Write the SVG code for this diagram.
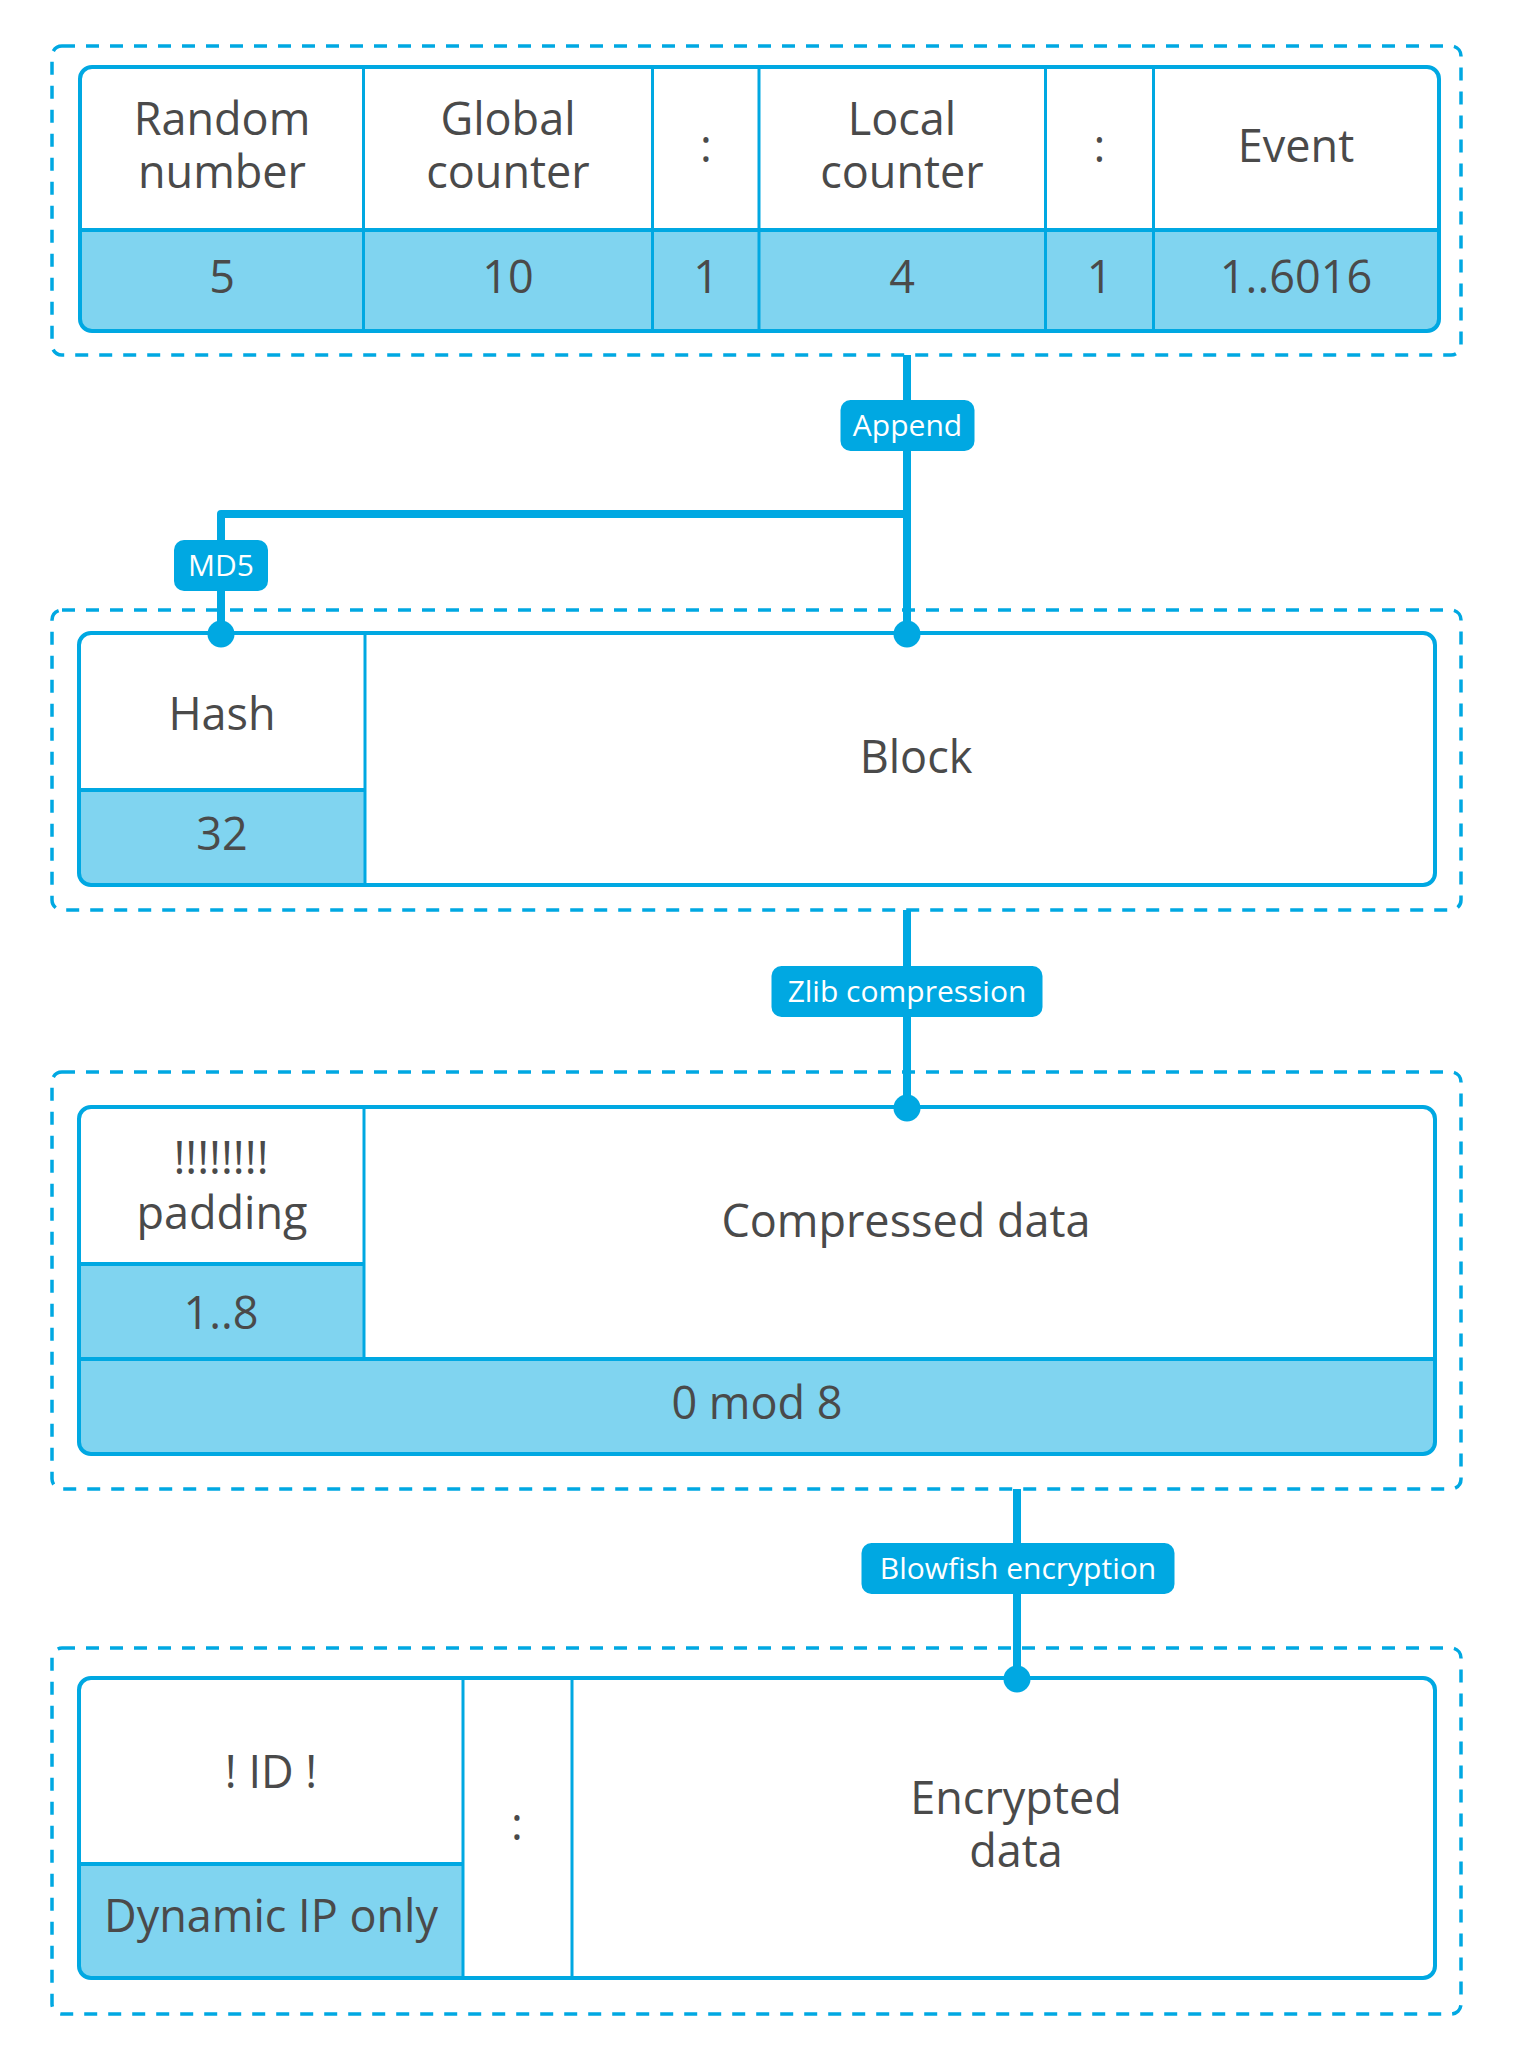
<svg xmlns="http://www.w3.org/2000/svg" width="1518" height="2055" viewBox="0 0 1518 2055">
<defs>
<style>
.grp{fill:none;stroke:#00A8E2;stroke-width:3.5;stroke-dasharray:13 11}
.tbl{fill:none;stroke:#00A8E2;stroke-width:4}
.bg{fill:#ffffff}
.lt{fill:#80D4F0}
.dv{stroke:#00A8E2;stroke-width:3}
.dvh{stroke:#00A8E2;stroke-width:4}
.t{font-family:"Open Sans","Liberation Sans",sans-serif;font-size:45px;fill:#4a4a4a;text-anchor:middle}
.badge{fill:#00A8E2}
.bt{font-family:"Open Sans","Liberation Sans",sans-serif;font-size:30px;fill:#ffffff;text-anchor:middle}
.con{fill:none;stroke:#00A8E2;stroke-width:8;stroke-linejoin:round}
.dot{fill:#00A8E2}
</style>
<clipPath id="c1"><rect x="80" y="67" width="1359" height="264" rx="12"/></clipPath>
<clipPath id="c2"><rect x="79" y="633" width="1356" height="252" rx="12"/></clipPath>
<clipPath id="c3"><rect x="79" y="1107" width="1356" height="347" rx="12"/></clipPath>
<clipPath id="c4"><rect x="79" y="1678" width="1356" height="300" rx="12"/></clipPath>
</defs>

<g id="connectors">
<path class="con" d="M907,355 V633"/>
<path class="con" d="M907,514 H221 V633"/>
<path class="con" d="M907,910 V1107"/>
<path class="con" d="M1017,1489 V1678"/>
</g>

<g id="group1">
<rect class="grp" x="52" y="46" width="1409" height="309" rx="10"/>
<g id="table1">
<rect class="bg" x="80" y="67" width="1359" height="264" rx="12"/>
<g clip-path="url(#c1)"><rect class="lt" x="80" y="230" width="1359" height="101"/></g>
<line class="dvh" x1="80" y1="230" x2="1439" y2="230"/>
<line class="dv" x1="363.5" y1="67" x2="363.5" y2="331"/>
<line class="dv" x1="652.5" y1="67" x2="652.5" y2="331"/>
<line class="dv" x1="759" y1="67" x2="759" y2="331"/>
<line class="dv" x1="1045.5" y1="67" x2="1045.5" y2="331"/>
<line class="dv" x1="1153.5" y1="67" x2="1153.5" y2="331"/>
<rect class="tbl" x="80" y="67" width="1359" height="264" rx="12"/>
<text class="t" x="222" y="135">Random<tspan x="222" y="188">number</tspan></text>
<text class="t" x="508" y="135">Global<tspan x="508" y="188">counter</tspan></text>
<text class="t" x="706" y="162">:</text>
<text class="t" x="902" y="135">Local<tspan x="902" y="188">counter</tspan></text>
<text class="t" x="1099.5" y="162">:</text>
<text class="t" x="1296" y="162">Event</text>
<text class="t" x="222" y="293">5</text>
<text class="t" x="508" y="293">10</text>
<text class="t" x="706" y="293">1</text>
<text class="t" x="902" y="293">4</text>
<text class="t" x="1099.5" y="293">1</text>
<text class="t" x="1296" y="293">1..6016</text>
</g>
</g>

<g id="badge-append">
<rect class="badge" x="840.5" y="400" width="134" height="51" rx="10"/>
<text class="bt" x="907.5" y="436">Append</text>
</g>
<g id="badge-md5">
<rect class="badge" x="174" y="540" width="94" height="51" rx="10"/>
<text class="bt" x="221" y="576">MD5</text>
</g>

<g id="group2">
<rect class="grp" x="52" y="610" width="1409" height="300" rx="10"/>
<g id="table2">
<rect class="bg" x="79" y="633" width="1356" height="252" rx="12"/>
<g clip-path="url(#c2)"><rect class="lt" x="79" y="790" width="286" height="95"/></g>
<line class="dv" x1="365" y1="633" x2="365" y2="885"/>
<line class="dvh" x1="79" y1="790" x2="365" y2="790"/>
<rect class="tbl" x="79" y="633" width="1356" height="252" rx="12"/>
<text class="t" x="222" y="730">Hash</text>
<text class="t" x="916" y="773">Block</text>
<text class="t" x="222" y="850">32</text>
</g>
</g>

<g id="badge-zlib">
<rect class="badge" x="771.5" y="966" width="271" height="51" rx="10"/>
<text class="bt" x="907" y="1002">Zlib compression</text>
</g>

<g id="group3">
<rect class="grp" x="52" y="1072" width="1409" height="417" rx="10"/>
<g id="table3">
<rect class="bg" x="79" y="1107" width="1356" height="347" rx="12"/>
<g clip-path="url(#c3)">
<rect class="lt" x="79" y="1264" width="285" height="95"/>
<rect class="lt" x="79" y="1359" width="1356" height="95"/>
</g>
<line class="dv" x1="364" y1="1107" x2="364" y2="1359"/>
<line class="dvh" x1="79" y1="1264" x2="364" y2="1264"/>
<line class="dvh" x1="79" y1="1359" x2="1435" y2="1359"/>
<rect class="tbl" x="79" y="1107" width="1356" height="347" rx="12"/>
<text class="t" x="221" y="1174">!!!!!!!!<tspan x="222" y="1229">padding</tspan></text>
<text class="t" x="906" y="1237">Compressed data</text>
<text class="t" x="221" y="1329">1..8</text>
<text class="t" x="757" y="1419">0 mod 8</text>
</g>
</g>

<g id="badge-blowfish">
<rect class="badge" x="861.5" y="1543" width="313" height="51" rx="10"/>
<text class="bt" x="1018" y="1579">Blowfish encryption</text>
</g>

<g id="group4">
<rect class="grp" x="52" y="1648" width="1409" height="366" rx="10"/>
<g id="table4">
<rect class="bg" x="79" y="1678" width="1356" height="300" rx="12"/>
<g clip-path="url(#c4)"><rect class="lt" x="79" y="1864" width="384" height="114"/></g>
<line class="dv" x1="463" y1="1678" x2="463" y2="1978"/>
<line class="dv" x1="572" y1="1678" x2="572" y2="1978"/>
<line class="dvh" x1="79" y1="1864" x2="463" y2="1864"/>
<rect class="tbl" x="79" y="1678" width="1356" height="300" rx="12"/>
<text class="t" x="271" y="1788">! ID !</text>
<text class="t" x="517" y="1840">:</text>
<text class="t" x="1016" y="1814">Encrypted<tspan x="1016" y="1867">data</tspan></text>
<text class="t" x="271" y="1932">Dynamic IP only</text>
</g>
</g>

<g id="connector-dots">
<circle class="dot" cx="221" cy="634" r="13.5"/>
<circle class="dot" cx="907" cy="634" r="13.5"/>
<circle class="dot" cx="907" cy="1108" r="13.5"/>
<circle class="dot" cx="1017" cy="1679" r="13.5"/>
</g>
</svg>
